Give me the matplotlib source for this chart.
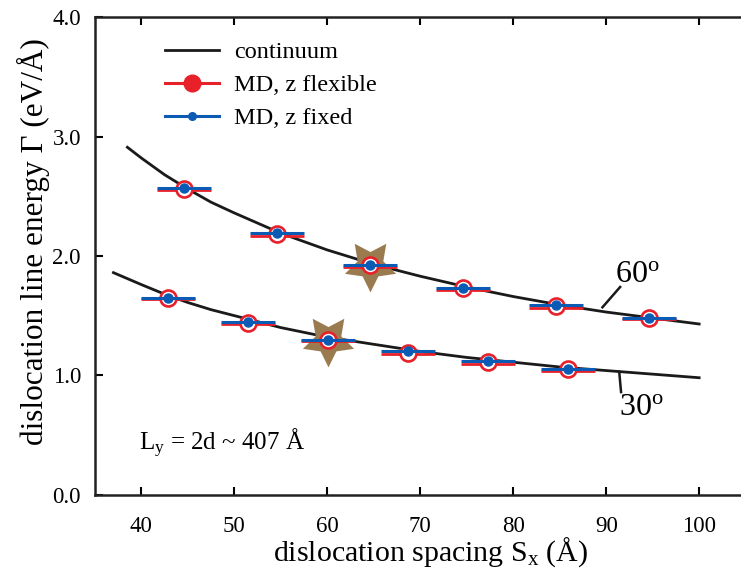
import matplotlib
matplotlib.use("Agg")
import matplotlib.pyplot as plt

plt.rcParams['font.family'] = ['Liberation Serif', 'DejaVu Serif']
plt.rcParams['mathtext.fontset'] = 'custom'
plt.rcParams['mathtext.rm'] = 'Liberation Serif'
plt.rcParams['mathtext.it'] = 'Liberation Serif:italic'

# continuum curves
cont60_x = [38.5, 40, 42.5, 45, 47.5, 50, 55, 60, 65, 70, 75, 80, 85, 90, 95, 100]
cont60_y = [2.91, 2.82, 2.68, 2.56, 2.45, 2.36, 2.19, 2.05, 1.93, 1.83, 1.74, 1.66, 1.59, 1.53, 1.48, 1.43]
cont30_x = [37, 40, 42.5, 45, 47.5, 50, 55, 60, 65, 70, 75, 80, 85, 90, 95, 100]
cont30_y = [1.86, 1.76, 1.68, 1.61, 1.55, 1.50, 1.40, 1.32, 1.26, 1.20, 1.15, 1.11, 1.07, 1.04, 1.01, 0.98]

# MD data
md60_x = [44.6, 54.6, 64.6, 74.6, 84.6, 94.6]
md60_flex = [2.56, 2.18, 1.92, 1.73, 1.58, 1.48]
md60_fixed = [2.57, 2.19, 1.92, 1.73, 1.59, 1.48]
md30_x = [42.9, 51.5, 60.1, 68.7, 77.3, 85.9]
md30_flex = [1.65, 1.44, 1.30, 1.19, 1.11, 1.05]
md30_fixed = [1.65, 1.45, 1.30, 1.20, 1.12, 1.05]
x_halfwidth = 2.9

# highlighted configurations
star_x = [64.6, 60.1]
star_y = [1.92, 1.30]

red = '#e8202a'
blue = '#0b5bb5'
brown = '#9a7b50'

fig = plt.figure(figsize=(7.41, 5.70), dpi=100)
ax = fig.add_axes([0.128, 0.132, 0.872, 0.838])

ax.plot(cont60_x, cont60_y, color='#1a1a1a', lw=2.0, zorder=2, label='continuum')
ax.plot(cont30_x, cont30_y, color='#1a1a1a', lw=2.0, zorder=2)

ax.scatter(star_x, star_y, marker=(5, 1, 180), s=1500, color=brown, zorder=3, linewidths=0)

for xs, yf, yx in [(md60_x, md60_flex, md60_fixed), (md30_x, md30_flex, md30_fixed)]:
    ax.errorbar(xs, [v - 0.012 for v in yf], xerr=x_halfwidth, fmt='none', ecolor=red, elinewidth=2.0, capsize=0, zorder=4)
    ax.plot(xs, yf, linestyle='none', marker='o', ms=11.5, mfc='white', mec=red, mew=1.9, zorder=5)
    ax.errorbar(xs, yx, xerr=x_halfwidth, fmt='none', ecolor=blue, elinewidth=2.2, capsize=0, zorder=6)
    ax.plot(xs, yx, linestyle='none', marker='o', ms=6.5, color=blue, zorder=7)

# legend handles
h_cont, = ax.plot([], [], color='#1a1a1a', lw=2.0)
h_flex, = ax.plot([], [], color=red, lw=2.2, marker='o', ms=12)
h_fix, = ax.plot([], [], color=blue, lw=2.2, marker='o', ms=5.5)
ax.legend([h_cont, h_flex, h_fix], ['continuum', 'MD, z flexible', 'MD, z fixed'],
          loc='upper left', bbox_to_anchor=(0.075, 0.995), frameon=False, fontsize=17.5,
          handlelength=2.2, handletextpad=0.65, labelspacing=0.45)

# annotations
ax.text(91.0, 1.72, r'60$^{\rm o}$', fontsize=23, ha='left', va='bottom')
ax.plot([89.6, 91.5], [1.57, 1.74], color='#1a1a1a', lw=1.8)
ax.text(91.4, 0.85, r'30$^{\rm o}$', fontsize=23, ha='left', va='top')
ax.plot([91.4, 91.6], [1.03, 0.86], color='#1a1a1a', lw=1.8)
ax.text(39.8, 0.43, r'L$_{\rm y}$ = 2d ~ 407 Å', fontsize=18, ha='left', va='center')

ax.set_xlim(35, 104.5)
ax.set_ylim(0, 4)
ax.set_xticks([40, 50, 60, 70, 80, 90, 100])
ax.set_yticks([0, 1, 2, 3, 4])
ax.set_yticklabels(['0.0', '1.0', '2.0', '3.0', '4.0'])
ax.tick_params(direction='in', length=6, width=1.5, labelsize=16.5, top=True, right=False)
ax.tick_params(axis='x', pad=15)
ax.tick_params(axis='y', pad=10)
for s in ['left', 'bottom', 'top']:
    ax.spines[s].set_linewidth(1.8)
    ax.spines[s].set_color('#222222')
ax.spines['right'].set_visible(False)

ax.set_xlabel(r'dislocation spacing S$_{\rm x}$ (Å)', fontsize=21.5)
ax.xaxis.set_label_coords(0.52, -0.137, transform=ax.transAxes)
ax.xaxis.label.set_va('baseline')
ax.set_ylabel(r'dislocation line energy Γ (eV/Å)', fontsize=22.5)
ax.yaxis.set_label_coords(-0.095, 0.53, transform=ax.transAxes)
ax.yaxis.label.set_va('center')

fig.savefig('out.png', dpi=100)
